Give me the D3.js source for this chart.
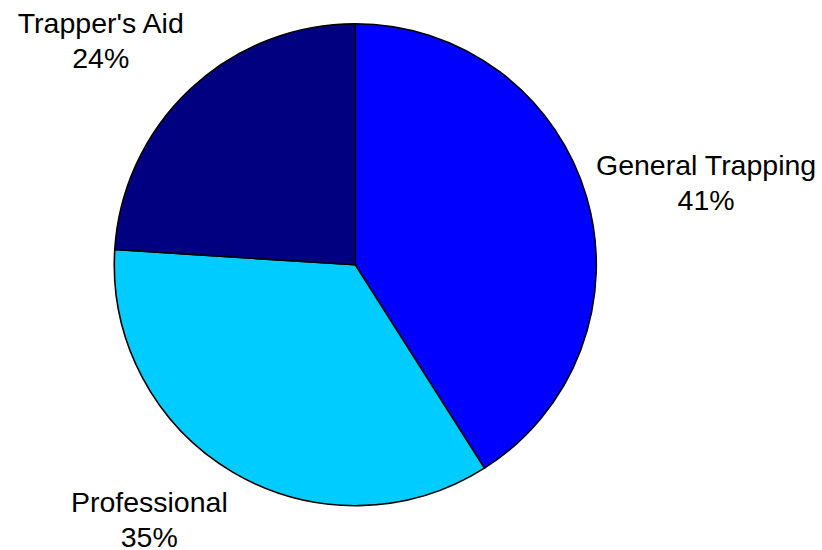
<!DOCTYPE html>
<html>
<head>
<meta charset="utf-8">
<script src="https://cdn.jsdelivr.net/npm/d3@7"></script>
<style>
  html, body { margin: 0; padding: 0; background: #ffffff; }
  svg { display: block; }
  text { font-family: "Liberation Sans", Arial, Helvetica, sans-serif; }
</style>
</head>
<body>
<svg id="chart" width="822" height="550"></svg>
<script>
// Share of responses by category (percent), clockwise from 12 o'clock
const categories = ["General Trapping", "Professional", "Trapper's Aid"];
const values = [41, 35, 24];
const colors = ["#0000ff", "#00ccff", "#000080"];

const width = 822, height = 550;
const cx = 355.3, cy = 264.7, radius = 241;
const fontSize = 28.5, lineGap = 35;

const svg = d3.select("#chart");
const g = svg.append("g").attr("transform", `translate(${cx},${cy})`);

const color = d3.scaleOrdinal().domain(categories).range(colors);
const total = d3.sum(values);

const pie = d3.pie().sort(null).value(d => d.value).startAngle(0).endAngle(2 * Math.PI);
const arcs = pie(categories.map((c, i) => ({ name: c, value: values[i] })));

const arc = d3.arc().innerRadius(0).outerRadius(radius);

g.selectAll("path.slice")
  .data(arcs)
  .join("path")
  .attr("class", "slice")
  .attr("d", arc)
  .attr("fill", d => color(d.data.name))
  .attr("stroke", "#000")
  .attr("stroke-width", 1.6)
  .attr("stroke-linejoin", "round");

// Labels sit just outside the rim, with the text block's nearest edge
// facing the slice's mid-angle.
const rx = radius * 1.04, ry = radius * 1.087;
const ascent = fontSize * 0.75, descent = fontSize * 0.2;
const fmt = v => Math.round(v / total * 100) + "%";

arcs.forEach(d => {
  const mid = (d.startAngle + d.endAngle) / 2;
  const s = Math.sin(mid), c = Math.cos(mid);
  const px = s * rx, py = -c * ry;

  const lbl = g.append("g").attr("class", "label");
  const lines = [d.data.name, fmt(d.data.value)];
  const texts = lbl.selectAll("text")
    .data(lines)
    .join("text")
    .attr("text-anchor", "middle")
    .attr("font-size", fontSize)
    .attr("fill", "#000")
    .text(t => t);

  const w = d3.max(texts.nodes(), n => n.getComputedTextLength());
  const h = ascent + lineGap + descent;

  const left = s >= 0 ? px : px - w;
  const t = Math.max(-1, Math.min(1, c / 0.6));
  const fy = 0.5 + 0.5 * Math.sign(t) * t * t;
  const top = py - fy * h;

  texts.attr("x", left + w / 2)
       .attr("y", (_, i) => top + ascent + i * lineGap);
});
</script>
</body>
</html>
